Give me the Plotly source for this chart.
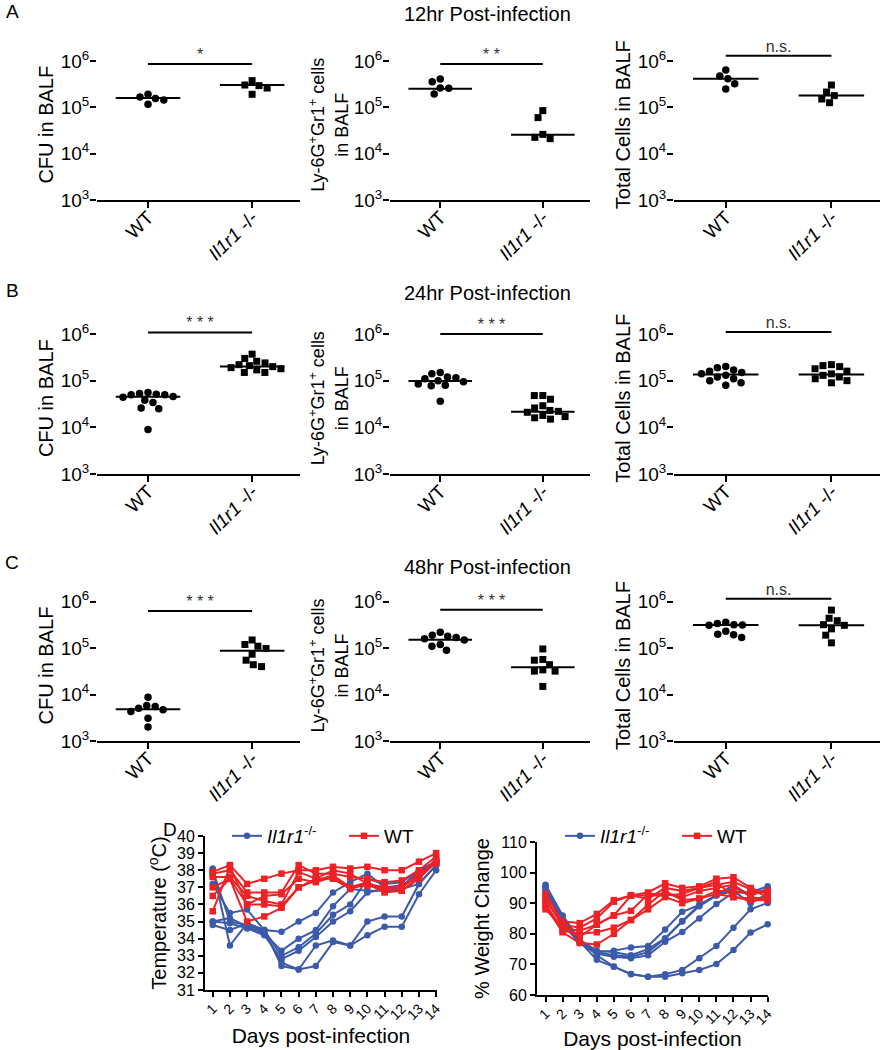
import numpy as np
import plotly.graph_objects as go

W, H = 883, 1050
FONT = "Liberation Sans, Arial, sans-serif"
BLUE = "rgb(60,90,170)"
RED = "rgb(236,34,38)"

groups = ["WT", "<i>Il1r1</i> -/-"]
ylabels = ["CFU in BALF", "Ly-6G<sup>+</sup>Gr1<sup>+</sup> cells<br>in BALF", "Total Cells in BALF"]
row_titles = ["12hr Post-infection", "24hr Post-infection", "48hr Post-infection"]
panel_letters = ["A", "B", "C", "D"]
log_ticks = [1e3, 1e4, 1e5, 1e6]
log_ticktext = ["10<sup>3</sup>", "10<sup>4</sup>", "10<sup>5</sup>", "10<sup>6</sup>"]

# ---- Row A: 12 hr ----
a_cfu_wt = [1.56e5, 1.16e5, 1.91e5, 1.44e5, 1.67e5]
a_cfu_ko = [2.94e5, 3.77e5, 1.91e5, 2.61e5, 3.03e5]
a_cfu_med = [1.59e5, 3.03e5]
a_ly_wt = [2.57e5, 4.1e5, 3.58e5, 1.94e5, 2.61e5]
a_ly_ko = [8.5e4, 6.0e4, 2.61e4, 2.11e4, 2.25e4]
a_ly_med = [2.53e5, 2.57e4]
a_tot_wt = [4.74e5, 4.16e5, 6.4e5, 2.49e5, 3.24e5]
a_tot_ko = [3.03e5, 1.79e5, 2.14e5, 1.26e5, 1.51e5]
a_tot_med = [4.16e5, 1.79e5]

# ---- Row B: 24 hr ----
b_cfu_wt = [5.6e4, 5.3e4, 5.1e4, 5.0e4, 5.0e4, 4.6e4, 4.4e4, 3.8e4, 3.4e4, 2.6e4, 2.5e4, 9.0e3]
b_cfu_ko = [3.7e5, 3.0e5, 2.6e5, 2.4e5, 2.2e5, 2.1e5, 2.0e5, 1.9e5, 1.8e5, 1.7e5, 1.5e5, 1.5e5]
b_cfu_med = [4.5e4, 2.02e5]
b_ly_wt = [1.5e5, 1.4e5, 1.2e5, 1.15e5, 1.1e5, 1.0e5, 9.5e4, 8.5e4, 8.0e4, 7.8e4, 3.6e4]
b_ly_ko = [4.8e4, 4.8e4, 4.0e4, 2.9e4, 2.6e4, 2.3e4, 2.2e4, 2.1e4, 1.8e4, 1.7e4, 1.6e4, 1.5e4]
b_ly_med = [9.8e4, 2.15e4]
b_tot_wt = [2.0e5, 1.9e5, 1.7e5, 1.6e5, 1.5e5, 1.4e5, 1.3e5, 1.2e5, 1.1e5, 1.0e5, 9.0e4, 8.0e4]
b_tot_ko = [2.2e5, 2.1e5, 2.0e5, 1.8e5, 1.6e5, 1.4e5, 1.3e5, 1.2e5, 1.1e5, 1.0e5, 9.0e4]
b_tot_med = [1.35e5, 1.35e5]

# ---- Row C: 48 hr ----
c_cfu_wt = [8.8e3, 5.8e3, 5.5e3, 5.1e3, 4.7e3, 4.3e3, 3.1e3, 2.0e3]
c_cfu_ko = [1.5e5, 1.2e5, 1.1e5, 9.8e4, 7.4e4, 5.5e4, 4.4e4, 4.0e4]
c_cfu_med = [4.85e3, 8.8e4]
c_ly_wt = [2.2e5, 1.9e5, 1.8e5, 1.7e5, 1.6e5, 1.5e5, 1.2e5, 1.1e5, 9.0e4]
c_ly_ko = [9.6e4, 5.7e4, 5.5e4, 4.4e4, 3.4e4, 3.2e4, 3.2e4, 1.5e4]
c_ly_med = [1.52e5, 3.86e4]
c_tot_wt = [3.6e5, 3.4e5, 3.2e5, 3.15e5, 3.1e5, 2.3e5, 2.0e5, 1.95e5, 1.7e5]
c_tot_ko = [6.6e5, 4.4e5, 3.9e5, 3.2e5, 3.1e5, 2.6e5, 1.9e5, 1.3e5]
c_tot_med = [3.16e5, 3.1e5]

# significance labels and bar heights
sig_labels = ["*", "* *", "n.s.", "* * *", "* * *", "n.s.", "* * *", "* * *", "n.s."]
sig_heights = [8.6e5, 8.6e5, 1.3e6, 1.08e6, 1.0e6, 1.1e6, 6.3e5, 6.7e5, 1.16e6]

# ---- Panel D ----
days = list(range(1, 15))
day_ticks = [str(d) for d in days]
temp_ko = [
    [38.1, 33.6, 34.9, 34.5, 33.0, 33.5, 34.3, 35.4, 36.0, 37.5, 37.2, 37.3, 38.0, 38.5],
    [37.2, 35.5, 35.7, 34.5, 34.4, 35.0, 35.5, 36.7, 37.3, 37.8, 37.0, 37.1, 37.8, 38.6],
    [35.0, 35.2, 34.7, 34.3, 33.3, 34.0, 34.5, 35.9, 36.9, 36.8, 36.8, 36.9, 37.2, 38.3],
    [34.8, 34.5, 34.9, 34.5, 32.4, 32.2, 33.6, 33.9, 33.6, 35.0, 35.3, 35.3, 37.2, 38.3],
    [35.0, 34.9, 34.6, 34.2, 32.8, 33.3, 34.1, 35.0, 35.6, 36.7, 36.9, 37.0, 38.0, 38.4],
    [38.0, 35.0, 34.8, 34.4, 32.6, 32.2, 32.4, 33.8, 33.6, 34.2, 34.7, 34.7, 36.6, 38.0],
]
temp_wt = [
    [37.9, 38.3, 37.2, 37.5, 37.8, 38.0, 38.0, 38.2, 38.1, 38.2, 38.0, 38.0, 38.5, 39.0],
    [37.8, 38.0, 36.7, 36.7, 36.7, 38.3, 37.8, 37.8, 37.6, 37.5, 37.3, 37.4, 38.0, 38.8],
    [37.6, 37.6, 36.5, 36.2, 36.0, 37.9, 37.5, 38.0, 37.8, 37.2, 37.0, 37.0, 37.7, 38.6],
    [37.0, 37.5, 36.0, 36.5, 36.6, 37.5, 37.3, 37.6, 37.0, 37.3, 36.8, 36.8, 37.5, 38.5],
    [36.5, 37.5, 35.0, 35.3, 35.8, 37.0, 37.5, 37.5, 36.9, 37.2, 36.7, 36.8, 37.6, 38.5],
    [35.6, 38.2, 36.0, 36.0, 35.9, 37.0, 37.4, 37.7, 37.0, 37.1, 36.9, 37.0, 37.8, 38.4],
]
weight_ko = [
    [96.0, 86.0, 78.0, 73.0, 69.3, 66.8, 66.0, 66.0, 67.1, 68.2, 70.1, 74.7, 80.4, 83.1],
    [95.0, 85.0, 77.5, 71.5, 69.2, 66.9, 66.0, 66.8, 68.2, 72.0, 76.0, 82.0, 88.0, 90.1],
    [95.5, 84.0, 78.0, 74.0, 74.5, 75.5, 76.0, 81.4, 87.2, 89.4, 92.6, 95.9, 92.3, 94.8],
    [94.0, 83.0, 77.0, 74.0, 73.0, 72.5, 74.0, 78.5, 84.2, 89.4, 92.6, 95.0, 93.0, 94.0],
    [93.5, 84.0, 77.0, 73.5, 72.5, 72.0, 73.0, 77.4, 80.6, 85.0, 89.7, 93.5, 93.5, 95.5],
    [95.0, 85.0, 78.0, 74.5, 74.0, 73.0, 75.0, 78.5, 84.0, 89.0, 92.5, 94.0, 90.0, 93.0],
]
weight_wt = [
    [93.0, 84.0, 83.5, 86.5, 91.0, 92.5, 93.5, 96.5, 95.0, 95.5, 98.0, 98.5, 95.0, 93.0],
    [91.0, 83.0, 82.0, 85.0, 90.5, 92.5, 91.5, 95.0, 94.0, 95.0, 96.0, 97.0, 94.5, 92.0],
    [92.0, 82.0, 81.0, 83.0, 86.0, 87.5, 93.0, 93.0, 92.0, 94.0, 95.0, 96.0, 92.0, 91.0],
    [90.0, 81.0, 80.0, 80.5, 82.0, 84.5, 89.5, 94.0, 91.0, 91.5, 94.0, 94.0, 93.0, 94.0],
    [89.0, 80.5, 77.0, 76.5, 80.0, 84.5, 88.0, 92.0, 90.0, 91.5, 93.0, 92.0, 91.0, 91.0],
    [88.0, 82.0, 79.0, 83.0, 86.0, 92.5, 92.5, 92.5, 93.0, 95.0, 97.0, 92.0, 91.5, 92.0],
]

panels = [
    (a_cfu_wt, a_cfu_ko, a_cfu_med), (a_ly_wt, a_ly_ko, a_ly_med), (a_tot_wt, a_tot_ko, a_tot_med),
    (b_cfu_wt, b_cfu_ko, b_cfu_med), (b_ly_wt, b_ly_ko, b_ly_med), (b_tot_wt, b_tot_ko, b_tot_med),
    (c_cfu_wt, c_cfu_ko, c_cfu_med), (c_ly_wt, c_ly_ko, c_ly_med), (c_tot_wt, c_tot_ko, c_tot_med),
]

# ---- layout geometry (pixels) ----
col_x = [(97, 300), (390, 590), (674, 880)]
row_y = [(61, 200), (334, 474), (601.7, 741)]   # pixel of 1e6, pixel of 1e3
X_RANGE = [-0.49, 1.46]
Y_TOP = 6.25


def swarm(vals, center, px_per_x, px_per_dec, d=8.5):
    ys = np.log10(np.asarray(vals, float)) * px_per_dec
    order = np.argsort(-ys)
    placed = []
    xs = np.zeros(len(ys))
    for i in order:
        y = ys[i]
        forb = []
        for xj, yj in placed:
            dy = abs(y - yj)
            if dy < d:
                w = np.sqrt(d * d - dy * dy)
                forb.append((xj - w, xj + w))
        cands = [0.0] + [a for f in forb for a in f]
        cands.sort(key=lambda c: (abs(c), c))
        for c in cands:
            if all(not (a + 1e-6 < c < b - 1e-6) for a, b in forb):
                xs[i] = c
                break
        placed.append((xs[i], y))
    return center + xs / px_per_x


fig = go.Figure()
layout = dict(
    width=W, height=H, margin=dict(l=0, r=0, t=0, b=0, pad=0, autoexpand=False),
    paper_bgcolor="white", plot_bgcolor="white",
    font=dict(family=FONT, color="black", size=16),
    showlegend=True,
)
shapes = []
annotations = []

axis_line = dict(color="black", width=2)

for k, (wt, ko, med) in enumerate(panels):
    r, c = divmod(k, 3)
    n = k + 1
    xs = "x" if n == 1 else f"x{n}"
    ys_ = "y" if n == 1 else f"y{n}"
    x0p, x1p = col_x[c]
    top6, bot3 = row_y[r]
    px_dec = (bot3 - top6) / 3.0
    top_pix = top6 - (Y_TOP - 6) * px_dec
    px_x = (x1p - x0p) / (X_RANGE[1] - X_RANGE[0])

    layout["xaxis" if n == 1 else f"xaxis{n}"] = dict(
        domain=[x0p / W, x1p / W], range=X_RANGE, anchor=ys_, automargin=False,
        tickvals=[0, 1], ticktext=groups, tickangle=-45, ticklabelstandoff=-9,
        showline=True, linecolor="black", linewidth=2,
        ticks="outside", ticklen=6, tickwidth=2, tickcolor="black",
        showgrid=False, zeroline=False, tickfont=dict(size=19),
    )
    layout["yaxis" if n == 1 else f"yaxis{n}"] = dict(
        domain=[1 - bot3 / H, 1 - top_pix / H], type="log", range=[3, Y_TOP], anchor=xs,
        automargin=False, ticklabelstandoff=-3,
        tickvals=log_ticks, ticktext=log_ticktext,
        showline=False, ticks="outside", ticklen=6, tickwidth=2, tickcolor="black",
        showgrid=False, zeroline=False, tickfont=dict(size=19),
        title=dict(text=ylabels[c], font=dict(size=20 if c != 1 else 18),
                   standoff=0 if c == 1 else 1),
    )
    # y axis line only between 1e3 and 1e6 (shape coordinates on a log axis are log10 values)
    shapes.append(dict(type="line", xref=f"{xs} domain", x0=0, x1=0, yref=ys_,
                       y0=np.log10(log_ticks[0]), y1=np.log10(log_ticks[-1]), line=axis_line))

    for gi, (vals, sym, sz) in enumerate([(wt, "circle", 7.5), (ko, "square", 7)]):
        xv = swarm(vals, gi, px_x, px_dec)
        fig.add_trace(go.Scatter(x=xv, y=vals, mode="markers", xaxis=xs, yaxis=ys_,
                                 marker=dict(symbol=sym, size=sz, color="black"),
                                 showlegend=False, cliponaxis=False, hoverinfo="skip"))
        fig.add_trace(go.Scatter(x=[gi - 0.31, gi + 0.31], y=[med[gi], med[gi]], mode="lines",
                                 xaxis=xs, yaxis=ys_, line=dict(color="black", width=2),
                                 showlegend=False, hoverinfo="skip"))
    fig.add_trace(go.Scatter(x=[0, 1], y=[sig_heights[k]] * 2, mode="lines", xaxis=xs, yaxis=ys_,
                             line=dict(color="black", width=2), showlegend=False, hoverinfo="skip"))
    fig.add_trace(go.Scatter(x=[0.5], y=[sig_heights[k]], mode="text", text=[sig_labels[k]],
                             textposition="top center", xaxis=xs, yaxis=ys_,
                             textfont=dict(size=16, color="#333"),
                             showlegend=False, cliponaxis=False, hoverinfo="skip"))

# ---- Panel D axes ----
d_specs = [
    (10, (205, 437), (836, 990), [0.55, 14.05], [31, 40], 1, "Temperature (<sup>o</sup>C)",
     (temp_ko, temp_wt), "legend", 6),
    (11, (537, 768), (842, 995), [0.5, 14.02], [60, 110], 10, "% Weight Change",
     (weight_ko, weight_wt), "legend2", 1),
]
for n, (xa, xb), (ya, yb), xr, yr, dt, ttl, (ko_lines, wt_lines), leg, so in d_specs:
    xs, ys_ = f"x{n}", f"y{n}"
    layout[f"xaxis{n}"] = dict(
        domain=[xa / W, xb / W], range=xr, anchor=ys_, automargin=False,
        tickvals=days, ticktext=day_ticks, tickangle=-45, ticklabelstandoff=-2,
        showline=True, linecolor="black", linewidth=2,
        ticks="outside", ticklen=5, tickwidth=2, tickcolor="black",
        showgrid=False, zeroline=False, tickfont=dict(size=14),
        title=dict(text="Days post-infection", font=dict(size=21), standoff=so),
    )
    layout[f"yaxis{n}"] = dict(
        domain=[1 - yb / H, 1 - ya / H], range=yr, anchor=xs, dtick=dt, automargin=False,
        showline=True, linecolor="black", linewidth=2,
        ticks="outside", ticklen=5, tickwidth=2, tickcolor="black",
        showgrid=False, zeroline=False, tickfont=dict(size=16),
        title=dict(text=ttl, font=dict(size=20), standoff=5),
    )
    for i, vals in enumerate(ko_lines):
        fig.add_trace(go.Scatter(x=days, y=vals, mode="lines+markers", xaxis=xs, yaxis=ys_,
                                 line=dict(color=BLUE, width=2), marker=dict(symbol="circle", size=6.5, color=BLUE),
                                 name="<i>Il1r1</i><sup>-/-</sup>", legendgroup=f"ko{n}", legend=leg,
                                 showlegend=(i == 0), cliponaxis=False, hoverinfo="skip"))
    for i, vals in enumerate(wt_lines):
        fig.add_trace(go.Scatter(x=days, y=vals, mode="lines+markers", xaxis=xs, yaxis=ys_,
                                 line=dict(color=RED, width=2), marker=dict(symbol="square", size=6.5, color=RED),
                                 name="WT", legendgroup=f"wt{n}", legend=leg,
                                 showlegend=(i == 0), cliponaxis=False, hoverinfo="skip"))

legend_common = dict(orientation="h", xanchor="left", yanchor="middle",
                     bgcolor="rgba(0,0,0,0)", font=dict(size=19), itemwidth=30,
                     entrywidth=72, entrywidthmode="pixels", tracegroupgap=0)
layout["legend"] = dict(x=227 / W, y=1 - 836 / H, **legend_common)
layout["legend2"] = dict(x=560 / W, y=1 - 836 / H, **legend_common)

# ---- text annotations ----
for txt, yy in zip(row_titles, [14, 293, 567]):
    annotations.append(dict(text=txt, x=487 / W, y=1 - yy / H, xref="paper", yref="paper",
                            showarrow=False, font=dict(size=20), xanchor="center", yanchor="middle"))
for txt, (xx, yy) in zip(panel_letters, [(12, 11), (12, 290), (12, 562), (170, 829)]):
    annotations.append(dict(text=txt, x=xx / W, y=1 - yy / H, xref="paper", yref="paper",
                            showarrow=False, font=dict(size=19), xanchor="center", yanchor="middle"))

layout["shapes"] = shapes
layout["annotations"] = annotations
fig.update_layout(**layout)
# remove the browser's default 8px page margin so the figure sits at the window origin
fig.write_html("out.html", config={"displayModeBar": False},
               post_script="document.body.style.margin='0';document.body.style.overflow='hidden';")
